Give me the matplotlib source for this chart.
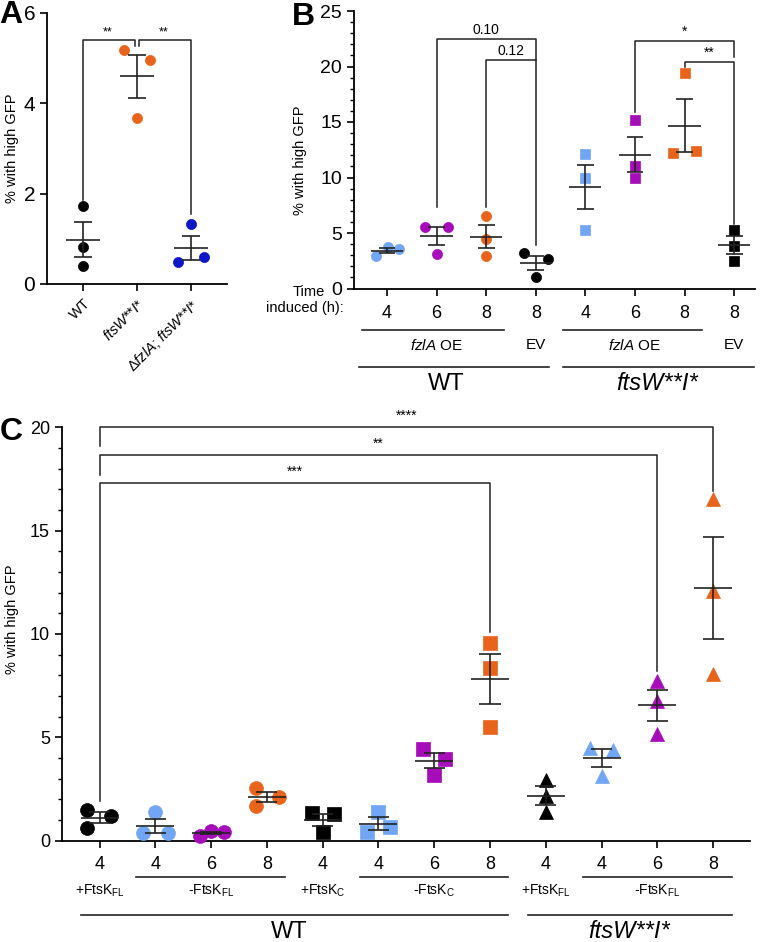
import numpy as np
import matplotlib.pyplot as plt
from matplotlib.ticker import MultipleLocator
from matplotlib.transforms import blended_transform_factory

plt.rcParams['font.family'] = ['Liberation Sans', 'DejaVu Sans']
plt.rcParams['mathtext.fontset'] = 'custom'
plt.rcParams['mathtext.rm'] = 'Liberation Sans'
plt.rcParams['mathtext.it'] = 'Liberation Sans:italic'
plt.rcParams['mathtext.bf'] = 'Liberation Sans:bold'

ORANGE = '#E8641C'
LBLUE = '#71A6F4'
PURPLE = '#A60CB8'
DBLUE = '#0B16C6'
BLACK = '#000000'
LINE = '#222222'

# ---- panel A data
a_labels = ['WT', r'$\it{ftsW}$**$\it{I}$*', r'$\Delta\it{fzlA}$; $\it{ftsW}$**$\it{I}$*']
a_vals = [[1.73, 0.82, 0.40], [5.17, 4.95, 3.67], [1.32, 0.48, 0.60]]
a_cols = [BLACK, ORANGE, DBLUE]
a_off = [[0, 0, 0], [-0.24, 0.24, 0], [0, -0.24, 0.24]]

# ---- panel B data
b_times = ['4', '6', '8', '8', '4', '6', '8', '8']
b_vals = [[2.93, 3.77, 3.56], [5.55, 5.50, 3.10], [6.50, 4.50, 2.95], [3.20, 2.65, 1.00],
          [12.1, 10.0, 5.3], [15.2, 11.0, 10.0], [19.4, 12.2, 12.4], [5.3, 3.85, 2.5]]
b_cols = [LBLUE, PURPLE, ORANGE, BLACK, LBLUE, PURPLE, ORANGE, BLACK]
b_marks = ['o', 'o', 'o', 'o', 's', 's', 's', 's']
b_off = [[-0.22, 0.02, 0.24], [-0.23, 0.23, 0], [0, 0, 0], [-0.23, 0.24, 0],
         [0, 0, 0], [0, 0, 0], [0, -0.23, 0.24], [0, 0, 0]]

# ---- panel C data
c_times = ['4', '4', '6', '8', '4', '4', '6', '8', '4', '4', '6', '8']
c_vals = [[1.50, 1.20, 0.60], [1.37, 0.36, 0.36], [0.24, 0.47, 0.41], [2.56, 1.68, 2.10],
          [1.32, 1.28, 0.44], [1.40, 0.68, 0.41], [4.44, 3.97, 3.18], [9.58, 8.36, 5.49],
          [2.96, 2.16, 1.39], [4.49, 4.40, 3.11], [7.72, 6.75, 5.16], [16.55, 12.08, 8.06]]
c_cols = [BLACK, LBLUE, PURPLE, ORANGE, BLACK, LBLUE, PURPLE, ORANGE,
          BLACK, LBLUE, PURPLE, ORANGE]
c_marks = ['o'] * 4 + ['s'] * 4 + ['^'] * 4
c_off = [[-0.22, 0.2, -0.22], [0, -0.22, 0.22], [-0.2, 0, 0.23], [-0.2, -0.2, 0.22],
         [-0.2, 0.2, 0], [0, 0.2, -0.2], [-0.2, 0.2, 0], [0, 0, 0],
         [0, 0, 0], [-0.2, 0.2, 0], [0, 0, 0], [0, 0, 0]]

W, H = 769, 942
fig = plt.figure(figsize=(W / 100, H / 100), dpi=100)


def rect(l, r, top, bot):
    return [l / W, 1 - bot / H, (r - l) / W, (bot - top) / H]


def fy(ypx):
    return 1 - ypx / H


def style(ax, fs, minor):
    for s in ['top', 'right']:
        ax.spines[s].set_visible(False)
    for s in ['left', 'bottom']:
        ax.spines[s].set_linewidth(1.3)
    ax.tick_params(axis='y', labelsize=fs, width=1.2, length=5)
    ax.tick_params(axis='x', width=1.2, length=5)
    if minor:
        ax.yaxis.set_minor_locator(MultipleLocator(1))
        ax.tick_params(axis='y', which='minor', width=1.0, length=3)


def group(ax, x, vals, off, color, marker, ms, mw, cw):
    vals = np.array(vals)
    m = vals.mean()
    se = vals.std(ddof=1) / np.sqrt(len(vals))
    ax.plot(x + np.array(off), vals, ls='none', marker=marker, ms=ms,
            color=color, mec=color, mew=0.5, zorder=3, clip_on=False)
    ax.hlines(m, x - mw / 2, x + mw / 2, color=LINE, lw=1.2, zorder=4)
    ax.hlines([m - se, m + se], x - cw / 2, x + cw / 2, color=LINE, lw=1.2, zorder=4)
    ax.vlines(x, m - se, m + se, color=LINE, lw=1.2, zorder=4)


def bracket(ax, x1, x2, y, y1, y2, label, fs):
    ax.plot([x1, x1, x2, x2], [y1, y, y, y2], color=LINE, lw=1.1, clip_on=False, zorder=2)
    ax.text((x1 + x2) / 2, y + 0.2, label, ha='center', va='bottom',
            fontsize=fs, clip_on=False)


# ================= panel A
axA = fig.add_axes(rect(47, 227, 13, 284))
style(axA, 15, False)
for i in range(3):
    group(axA, i, a_vals[i], a_off[i], a_cols[i], 'o', 7.3, 0.63, 0.33)
axA.set_xlim(-0.667, 2.667)
axA.set_ylim(0, 6)
axA.set_yticks([0, 2, 4, 6])
axA.set_xticks(range(3))
axA.set_xticklabels(a_labels, rotation=45, ha='right', va='top',
                    rotation_mode='anchor', fontsize=10.5)
axA.plot([0, 0, 0.96, 0.96], [1.85, 5.4, 5.4, 5.27], color=LINE, lw=1.1)
axA.plot([1.04, 1.04, 2, 2], [5.27, 5.4, 5.4, 1.55], color=LINE, lw=1.1)
axA.text(0.46, 5.43, '**', ha='center', va='bottom', fontsize=9)
axA.text(1.5, 5.43, '**', ha='center', va='bottom', fontsize=9)
fig.text(12 / W, fy(148), '% with high GFP', rotation=90, ha='center', va='center', fontsize=10.5)
fig.text(11 / W, fy(15), 'A', fontsize=23, fontweight='bold', ha='center', va='center')

# ================= panel B
axB = fig.add_axes(rect(354, 755, 11, 288.5))
style(axB, 14, True)
for i in range(8):
    group(axB, i, b_vals[i], b_off[i], b_cols[i], b_marks[i], 7.3, 0.65, 0.34)
axB.set_xlim(-0.665, 7.42)
axB.set_ylim(0, 25)
axB.set_yticks([0, 5, 10, 15, 20, 25])
axB.set_xticks(range(8))
axB.set_xticklabels(b_times, fontsize=13)
axB.tick_params(axis='x', pad=7)
bracket(axB, 1, 3, 22.5, 7.3, 3.9, '0.10', 10)
bracket(axB, 2, 3, 20.6, 7.3, 20.6, '0.12', 10)
bracket(axB, 5, 7, 22.3, 15.9, 20.9, '*', 10)
bracket(axB, 6, 7, 20.4, 20.0, 5.8, '**', 10)
tB = blended_transform_factory(axB.transData, fig.transFigure)
axB.text(-1.57, fy(292), 'Time', transform=tB, ha='center', va='center', fontsize=10.5)
axB.text(-1.65, fy(308), 'induced (h):', transform=tB, ha='center', va='center', fontsize=10.5)
for x1, x2, xc in [(-0.5, 2.35, 1), (3.55, 6.35, 5)]:
    axB.plot([x1, x2], [fy(330)] * 2, transform=tB, color=LINE, lw=1.2, clip_on=False)
    axB.text(xc, fy(345), r'$\it{fzlA}$ OE', transform=tB, ha='center', va='center', fontsize=11)
axB.text(3, fy(345), 'EV', transform=tB, ha='center', va='center', fontsize=11)
axB.text(7, fy(345), 'EV', transform=tB, ha='center', va='center', fontsize=11)
axB.plot([-0.57, 3.27], [fy(367)] * 2, transform=tB, color=LINE, lw=1.2, clip_on=False)
axB.plot([3.55, 7.4], [fy(367)] * 2, transform=tB, color=LINE, lw=1.2, clip_on=False)
axB.text(1.2, fy(384), 'WT', transform=tB, ha='center', va='center', fontsize=17)
axB.text(5.45, fy(384), 'ftsW**I*', transform=tB, ha='center', va='center',
         fontsize=17, fontstyle='italic')
fig.text(300 / W, fy(160), '% with high GFP', rotation=90, ha='center', va='center', fontsize=10.5)
fig.text(303 / W, fy(17), 'B', fontsize=23, fontweight='bold', ha='center', va='center')

# ================= panel C
axC = fig.add_axes(rect(61.7, 750, 427.3, 840.7))
style(axC, 13, True)
for i in range(12):
    ms = 10.5 if c_marks[i] == '^' else 10
    group(axC, i, c_vals[i], c_off[i], c_cols[i], c_marks[i], ms, 0.68, 0.38)
axC.set_xlim(-0.678, 11.66)
axC.set_ylim(0, 20)
axC.set_yticks([0, 5, 10, 15, 20])
axC.set_xticks(range(12))
axC.set_xticklabels(c_times, fontsize=13)
axC.tick_params(axis='x', pad=6)
bracket(axC, 0, 11, 20.0, 19.1, 16.9, '****', 10)
bracket(axC, 0, 10, 18.65, 17.7, 8.2, '**', 10)
bracket(axC, 0, 7, 17.3, 1.9, 10.1, '***', 10)
tC = blended_transform_factory(axC.transData, fig.transFigure)
for x1, x2 in [(0.65, 3.32), (4.67, 7.32), (8.66, 11.34)]:
    axC.plot([x1, x2], [fy(877)] * 2, transform=tC, color=LINE, lw=1.2, clip_on=False)
sub_labels = [r'+FtsK$_{\rm FL}$', r'-FtsK$_{\rm FL}$', r'+FtsK$_{\rm C}$',
              r'-FtsK$_{\rm C}$', r'+FtsK$_{\rm FL}$', r'-FtsK$_{\rm FL}$']
for xc, lab in zip([0, 2, 4, 6, 8, 10], sub_labels):
    axC.text(xc, fy(891), lab, transform=tC, ha='center', va='center', fontsize=10)
axC.plot([-0.33, 7.32], [fy(915)] * 2, transform=tC, color=LINE, lw=1.2, clip_on=False)
axC.plot([7.68, 11.34], [fy(915)] * 2, transform=tC, color=LINE, lw=1.2, clip_on=False)
axC.text(3.4, fy(932), 'WT', transform=tC, ha='center', va='center', fontsize=17)
axC.text(9.5, fy(932), 'ftsW**I*', transform=tC, ha='center', va='center',
         fontsize=17, fontstyle='italic')
fig.text(12 / W, fy(619), '% with high GFP', rotation=90, ha='center', va='center', fontsize=10.5)
fig.text(11 / W, fy(432), 'C', fontsize=23, fontweight='bold', ha='center', va='center')

fig.savefig('out.png', dpi=100)
